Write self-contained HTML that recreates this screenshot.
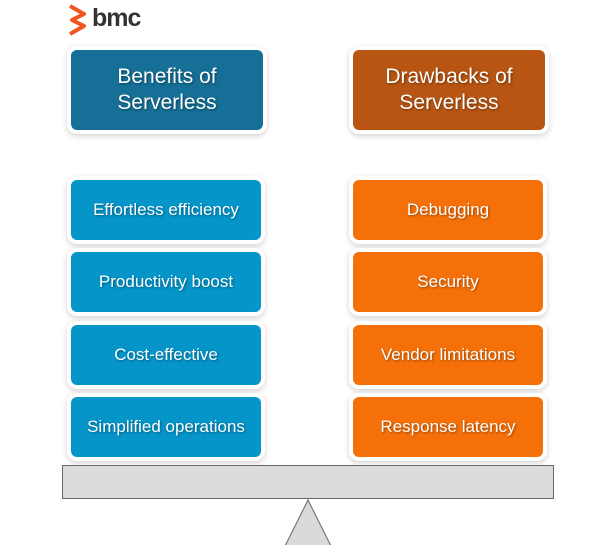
<!DOCTYPE html>
<html><head><style>
body{margin:0;width:606px;height:545px;background:#fff;position:relative;overflow:hidden;font-family:"Liberation Sans",sans-serif}
.b{position:absolute;color:#fff;display:flex;align-items:center;justify-content:center;text-align:center;border-radius:6px;box-shadow:0 0 0 4px #fff,0 2px 6px 4px rgba(0,0,0,.18);text-shadow:1px 1px 2px rgba(0,0,0,.4)}
.h{font-size:21px;line-height:26px;height:80px;top:50px;width:192px}
.i{font-size:17px;height:60px;width:190px}
.L{left:71px}.R{left:353px}
.hl{background:#156f96}.hr{background:#b85512}
.il{background:#0595c9}.ir{background:#f57009}
</style></head><body>
<svg style="position:absolute;left:66px;top:4px" width="22" height="32" viewBox="0 0 22 32"><path d="M4 2 L18 10 L6 16 L18 22 L4 30" fill="none" stroke="#f2561d" stroke-width="4" stroke-linejoin="round"/></svg>
<div style="position:absolute;left:92px;top:4px;font-size:25px;font-weight:bold;color:#333;letter-spacing:-1px">bmc</div>
<div class="b h L hl">Benefits of<br>Serverless</div>
<div class="b h R hr">Drawbacks of<br>Serverless</div>
<div class="b i L il" style="top:180px">Effortless efficiency</div>
<div class="b i L il" style="top:252px">Productivity boost</div>
<div class="b i L il" style="top:325px">Cost-effective</div>
<div class="b i L il" style="top:397px">Simplified operations</div>
<div class="b i R ir" style="top:180px">Debugging</div>
<div class="b i R ir" style="top:252px">Security</div>
<div class="b i R ir" style="top:325px">Vendor limitations</div>
<div class="b i R ir" style="top:397px">Response latency</div>
<div style="position:absolute;left:62px;top:465px;width:490px;height:32px;background:#dcdcdc;border:1px solid #666"></div>
<svg style="position:absolute;left:0;top:0" width="606" height="545"><polygon points="308,500 285,546 331,546" fill="#d9d9d9" stroke="#666" stroke-width="1"/></svg>
</body></html>
